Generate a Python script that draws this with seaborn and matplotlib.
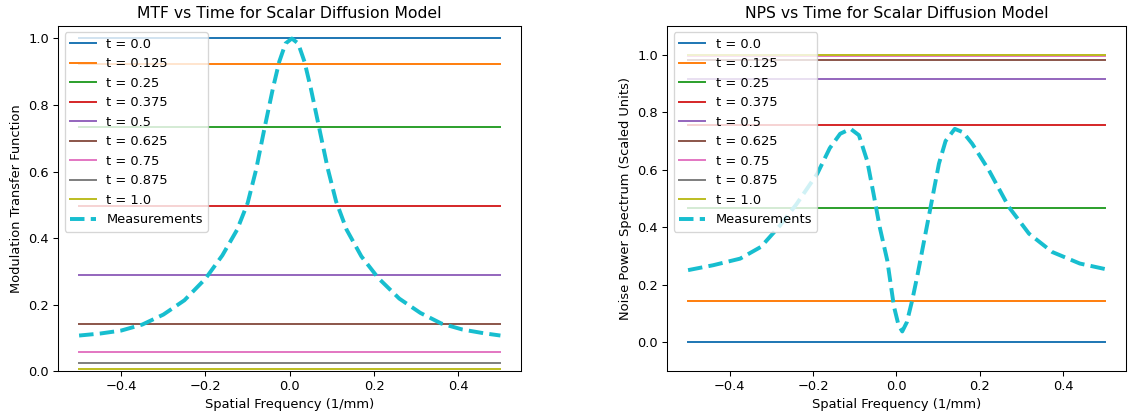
import numpy as np
import pandas as pd
import seaborn as sns
from matplotlib import pyplot as plt

# Diffusion times and the flat model values
times = [0.0, 0.125, 0.25, 0.375, 0.5, 0.625, 0.75, 0.875, 1.0]
mtf_model = [1.0, 0.924, 0.733, 0.497, 0.288, 0.141, 0.059, 0.023, 0.007]
nps_model = [0.0, 0.145, 0.466, 0.755, 0.917, 0.980, 0.996, 0.999, 1.0]
freq_range = [-0.5, 0.5]

# Measured MTF curve
mtf_freq = [-0.500, -0.450, -0.400, -0.350, -0.300, -0.250, -0.200, -0.160, -0.125, -0.100,
            -0.080, -0.060, -0.040, -0.025, -0.010, 0.005, 0.020, 0.035, 0.050, 0.070,
            0.090, 0.110, 0.135, 0.170, 0.210, 0.260, 0.310, 0.360, 0.410, 0.460, 0.500]
mtf_meas = [0.107, 0.113, 0.122, 0.140, 0.170, 0.213, 0.278, 0.348, 0.425, 0.505,
            0.605, 0.730, 0.850, 0.930, 0.985, 1.000, 0.985, 0.930, 0.850, 0.730,
            0.610, 0.510, 0.425, 0.345, 0.280, 0.218, 0.175, 0.143, 0.125, 0.114, 0.107]

# Measured NPS curve
nps_freq = [-0.500, -0.440, -0.375, -0.325, -0.280, -0.240, -0.190, -0.160, -0.135, -0.110,
            -0.090, -0.070, -0.055, -0.040, -0.022, -0.006, 0.005, 0.014, 0.025, 0.038,
            0.050, 0.062, 0.082, 0.102, 0.118, 0.140, 0.160, 0.182, 0.222, 0.270,
            0.318, 0.374, 0.440, 0.500]
nps_meas = [0.251, 0.268, 0.291, 0.332, 0.405, 0.480, 0.586, 0.675, 0.725, 0.742,
            0.720, 0.630, 0.517, 0.400, 0.285, 0.125, 0.060, 0.038, 0.070, 0.147,
            0.230, 0.320, 0.470, 0.621, 0.700, 0.742, 0.730, 0.690, 0.598, 0.470,
            0.378, 0.314, 0.274, 0.255]

palette = sns.color_palette('tab10')

# Reference looks rendered at a slightly smaller scale
fig = plt.figure(figsize=(1129 / 94, 417 / 94), dpi=94)
ax_mtf = fig.add_axes([0.0514, 0.110, 0.4105, 0.828])
ax_nps = fig.add_axes([0.5910, 0.110, 0.4060, 0.828])

for ax, model, meas_x, meas_y in [(ax_mtf, mtf_model, mtf_freq, mtf_meas),
                                  (ax_nps, nps_model, nps_freq, nps_meas)]:
    for i, (t, val) in enumerate(zip(times, model)):
        sns.lineplot(x=freq_range, y=[val, val], color=palette[i],
                     label='t = ' + str(t), ax=ax)
    sns.lineplot(x=meas_x, y=meas_y, color=palette[9], linestyle='--',
                 linewidth=3, label='Measurements', ax=ax, sort=False)
    ax.set_xlabel('Spatial Frequency (1/mm)')
    ax.legend(loc='upper left')

ax_mtf.set_ylim(0, 1.038)
ax_mtf.set_ylabel('Modulation Transfer Function')
ax_mtf.set_title('MTF vs Time for Scalar Diffusion Model')

ax_nps.set_ylim(-0.1, 1.1)
ax_nps.set_ylabel('Noise Power Spectrum (Scaled Units)')
ax_nps.set_title('NPS vs Time for Scalar Diffusion Model')

fig.savefig('out.png', dpi=94)
